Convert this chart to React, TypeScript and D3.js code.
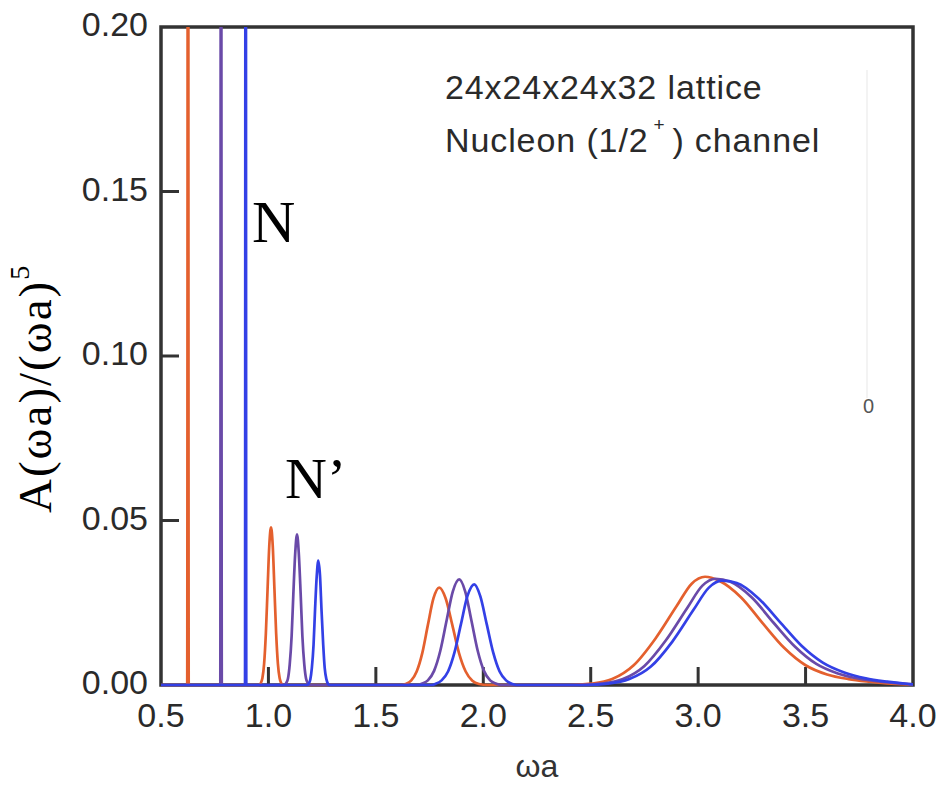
import React from "react";
import * as d3 from "d3";

// ---- data ----
const xTicks = [0.5, 1.0, 1.5, 2.0, 2.5, 3.0, 3.5, 4.0];
const yTicks = [0.0, 0.05, 0.1, 0.15, 0.2];

const orangeSeries: [number, number][] = [
  [0.5, 0], [0.622, 0], [0.6257, 0.4], [0.629, 0],
  [0.955, 0], [0.964, 0.0005], [0.972, 0.0021], [0.98, 0.0065], [0.988, 0.0156], [0.996, 0.0291],
  [1.004, 0.0424], [1.012, 0.0479], [1.02, 0.0424], [1.028, 0.0291], [1.036, 0.0156],
  [1.044, 0.0065], [1.052, 0.0021], [1.06, 0.0005], [1.068, 0],
  [1.62, 0], [1.638, 0.0003], [1.664, 0.0013], [1.69, 0.0041], [1.716, 0.0097], [1.742, 0.0182],
  [1.768, 0.0263], [1.795, 0.0296], [1.825, 0.0263], [1.856, 0.0182], [1.887, 0.0097],
  [1.918, 0.0041], [1.949, 0.0013], [1.98, 0.0003], [2.02, 0],
  [2.4, 0], [2.5, 0.0004], [2.6, 0.0018], [2.7, 0.006], [2.8, 0.014], [2.9, 0.024], [2.97, 0.0308],
  [3.032, 0.0329], [3.1, 0.0316], [3.2, 0.0266], [3.3, 0.0188], [3.4, 0.0113], [3.5, 0.006],
  [3.6, 0.0032], [3.7, 0.0018], [3.8, 0.001], [3.9, 0.0004], [4.0, 0.0001],
];

const purpleSeries: [number, number][] = [
  [0.5, 0], [0.776, 0], [0.7793, 0.4], [0.783, 0],
  [1.075, 0], [1.082, 0.0005], [1.091, 0.002], [1.099, 0.0062], [1.108, 0.0149], [1.116, 0.0277],
  [1.125, 0.0404], [1.133, 0.0458], [1.141, 0.0404], [1.15, 0.0277], [1.158, 0.0149],
  [1.167, 0.0062], [1.175, 0.002], [1.184, 0.0005], [1.192, 0],
  [1.7, 0], [1.713, 0.0004], [1.742, 0.0014], [1.771, 0.0043], [1.8, 0.0104], [1.829, 0.0195],
  [1.858, 0.0284], [1.888, 0.0321], [1.916, 0.0284], [1.945, 0.0195], [1.974, 0.0104],
  [2.003, 0.0043], [2.032, 0.0014], [2.061, 0.0004], [2.08, 0],
  [2.45, 0], [2.55, 0.0004], [2.65, 0.0018], [2.75, 0.0058], [2.85, 0.0136], [2.95, 0.0235],
  [3.02, 0.0302], [3.08, 0.0323], [3.15, 0.0314], [3.25, 0.0266], [3.35, 0.019], [3.45, 0.0117],
  [3.55, 0.0064], [3.65, 0.0035], [3.75, 0.0019], [3.85, 0.001], [3.95, 0.0004], [4.0, 0.0002],
];

const blueSeries: [number, number][] = [
  [0.5, 0], [0.891, 0], [0.894, 0.4], [0.897, 0],
  [1.18, 0], [1.187, 0.0004], [1.195, 0.0017], [1.202, 0.0051], [1.21, 0.0122], [1.217, 0.0229],
  [1.225, 0.0333], [1.232, 0.0378], [1.24, 0.0333], [1.247, 0.0229], [1.255, 0.0122],
  [1.262, 0.0051], [1.27, 0.0017], [1.277, 0.0004], [1.285, 0],
  [1.76, 0], [1.776, 0.0003], [1.806, 0.0014], [1.836, 0.0041], [1.866, 0.0099], [1.896, 0.0185],
  [1.926, 0.027], [1.958, 0.0306], [1.986, 0.027], [2.016, 0.0185], [2.046, 0.0099],
  [2.076, 0.0041], [2.106, 0.0014], [2.136, 0.0003], [2.155, 0],
  [2.48, 0], [2.58, 0.0004], [2.68, 0.0018], [2.78, 0.0056], [2.88, 0.0132], [2.98, 0.023],
  [3.05, 0.0296], [3.11, 0.0317], [3.18, 0.031], [3.28, 0.0264], [3.38, 0.0192], [3.48, 0.012],
  [3.58, 0.0068], [3.68, 0.0038], [3.78, 0.002], [3.88, 0.001], [3.98, 0.0003], [4.0, 0.0002],
];

const seriesList = [
  { name: "orange", color: "#e4602e", data: orangeSeries },
  { name: "purple", color: "#6a4aa8", data: purpleSeries },
  { name: "blue", color: "#3340e6", data: blueSeries },
];

const legendLines = ["24x24x24x32 lattice", "Nucleon (1/2", ")", "channel"];

// ---- layout ----
const W = 945;
const H = 786;
const left = 161;
const right = 913;
const top = 27;
const bottom = 685;

export default function App() {
  const x = d3.scaleLinear().domain([0.5, 4.0]).range([left, right]);
  const y = d3.scaleLinear().domain([0, 0.2]).range([bottom, top]);
  const line = d3
    .line<[number, number]>()
    .x((d) => x(d[0]))
    .y((d) => y(d[1]))
    .curve(d3.curveMonotoneX);

  const axisColor = "#333";
  const tickLen = 18;
  const sans = "'Liberation Sans', Arial, Helvetica, sans-serif";
  const serif = "'Liberation Serif', 'Times New Roman', serif";

  return (
    <svg width={W} height={H} style={{ position: "absolute", left: 0, top: 0, background: "#fff" }}>
      <defs>
        <clipPath id="plotClip">
          <rect x={left} y={top} width={right - left} height={bottom - top + 3} />
        </clipPath>
      </defs>

      {/* faint artifact line */}
      <line x1={867} x2={867} y1={70} y2={398} stroke="#efefef" strokeWidth={1.5} />
      <text x={863} y={413} fontFamily={sans} fontSize={20} fill="#555">0</text>

      {/* ticks */}
      {xTicks.slice(1, -1).map((t) => (
        <line key={"xt" + t} x1={x(t)} x2={x(t)} y1={bottom} y2={bottom - tickLen} stroke={axisColor} strokeWidth={3} />
      ))}
      {yTicks.slice(1, -1).map((t) => (
        <line key={"yt" + t} x1={left} x2={left + tickLen} y1={y(t)} y2={y(t)} stroke={axisColor} strokeWidth={3} />
      ))}

      {/* frame */}
      <rect x={left} y={top} width={right - left} height={bottom - top} fill="none" stroke={axisColor} strokeWidth={3.5} />

      {/* series */}
      <g clipPath="url(#plotClip)">
        {seriesList.map((s) => (
          <path key={s.name} d={line(s.data) || ""} fill="none" stroke={s.color} strokeWidth={2.7} strokeLinejoin="round" />
        ))}
      </g>

      {/* tick labels */}
      {xTicks.map((t) => (
        <text key={"xl" + t} x={x(t)} y={727} textAnchor="middle" fontFamily={sans} fontSize={34} fill="#2a2a2a">
          {t.toFixed(1)}
        </text>
      ))}
      {yTicks.map((t) => (
        <text key={"yl" + t} x={148} y={y(t) + 9} textAnchor="end" fontFamily={sans} fontSize={34} fill="#2a2a2a">
          {t.toFixed(2)}
        </text>
      ))}

      {/* axis titles */}
      <text x={(left + right) / 2} y={777} textAnchor="middle" fontFamily={sans} fontSize={32} fill="#333">
        ωa
      </text>
      <text transform="translate(51,513) rotate(-90)" fontFamily={serif} fontSize={47} fill="#000" letterSpacing={2}>
        A(ωa)/(ωa)
        <tspan fontSize={28} dy={-22}>5</tspan>
      </text>

      {/* legend text */}
      <text x={445} y={99} fontFamily={sans} fontSize={34} fill="#2a2a2a" letterSpacing={0.9}>
        {legendLines[0]}
      </text>
      <text x={445} y={152} fontFamily={sans} fontSize={34} fill="#2a2a2a" letterSpacing={0.9}>
        {legendLines[1]}
        <tspan fontSize={19} dx={5} dy={-21}>+</tspan>
        <tspan fontSize={34} dx={7} dy={21}>{legendLines[2]}</tspan>
        <tspan fontSize={34} dx={10}>{legendLines[3]}</tspan>
      </text>

      {/* peak labels */}
      <text x={252} y={242} fontFamily={serif} fontSize={60} fill="#000">N</text>
      <text x={285} y={498} fontFamily={serif} fontSize={58} fill="#000">N’</text>
    </svg>
  );
}
